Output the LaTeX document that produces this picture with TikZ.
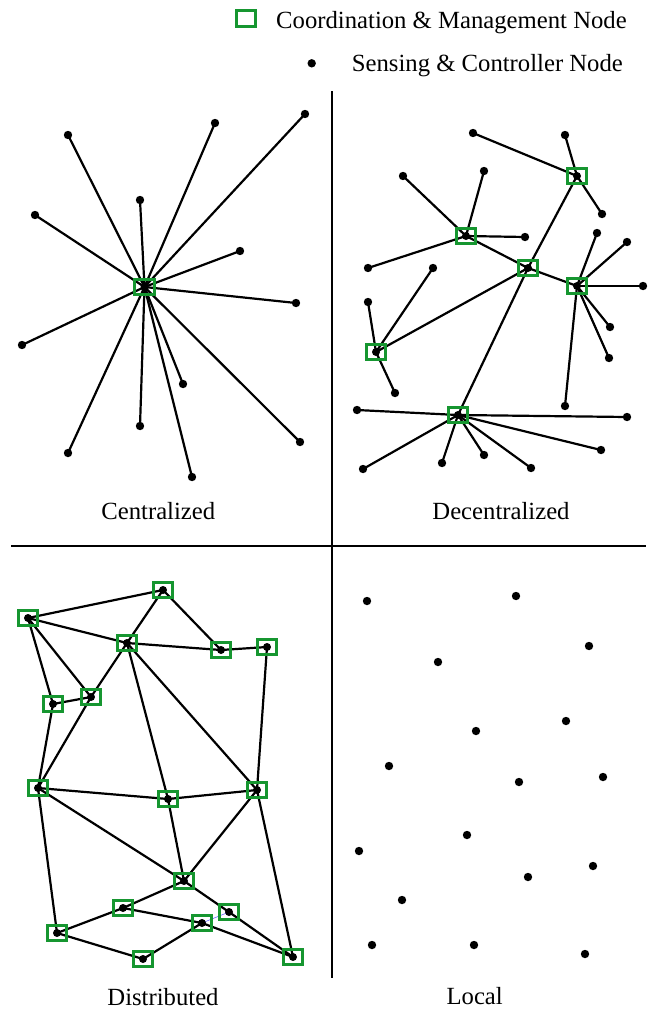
\documentclass[tikz,border=0pt]{standalone}
\usepackage{fontspec}
\setmainfont{Liberation Serif}
\usetikzlibrary{backgrounds}
\definecolor{hubgreen}{RGB}{22,150,48}
\begin{document}
\begin{tikzpicture}[x=1pt,y=-1pt,
  edge/.style={line width=2.2pt,black},
  divider/.style={line width=2.2pt,black},
  dot/.style={circle,fill=black,inner sep=0pt,minimum size=8.4pt},
  hub/.style={rectangle,draw=hubgreen,line width=2.9pt,inner sep=0pt,minimum width=19.5pt,minimum height=15.5pt,
    path picture={\fill[black] (path picture bounding box.center) circle (4pt);}},
  lab/.style={inner sep=0pt,anchor=base,font=\fontsize{24.7}{30}\selectfont},
  legtext/.style={inner sep=0pt,anchor=base west,font=\fontsize{24.7}{30}\selectfont}]
\useasboundingbox (0,0) rectangle (656,1010);

% legend
\node[hub,path picture={}] (lg1) at (246,18.5) {};
\node[legtext] (lt1) at (276,28) {Coordination \& Management Node};
\node[dot] (lg2) at (311.7,63.3) {};
\node[legtext] (lt2) at (351.7,71.7) {Sensing \& Controller Node};

% dividers
\coordinate (hl) at (11,546);
\coordinate (hr) at (646,546);
\coordinate (vt) at (332,91);
\coordinate (vb) at (332,978);
\draw[divider] (hl) -- (hr);
\draw[divider] (vt) -- (vb);

% ---------- Centralized ----------
\node[hub] (c0) at (144.5,287) {};
\foreach \n/\x/\y in {1/68/135,2/215/123,3/305/114,4/140/200,5/35/215,6/240/251,7/296/303,
  8/22/345,9/183/384,10/140/426,11/300/442,12/68/453,13/192/477}{
  \node[dot] (c\n) at (\x,\y) {};
}
\begin{scope}[on background layer]
\foreach \n in {1,...,13}{ \draw[edge] (c0.center) -- (c\n.center); }
\end{scope}
\node[lab] (lc) at (158.3,519) {Centralized};

% ---------- Decentralized ----------
\node[hub] (h1) at (577,176) {};
\node[hub] (h2) at (466,236) {};
\node[hub] (h3) at (528,268) {};
\node[hub] (h4) at (577,286) {};
\node[hub] (h5) at (376,352) {};
\node[hub] (h6) at (458,415) {};
\foreach \n/\x/\y/\h in {a/473/133/h1,b/565/135/h1,c/602/214/h1,
  d/403/176/h2,e/484/171/h2,f/525/237/h2,g/368/268/h2,
  i/597/233/h4,j/627/242/h4,k/643/286/h4,l/610/327/h4,m/609/358/h4,n/565/406/h4,
  o/368/302/h5,p/433/268/h5,q/395/393/h5,
  r/357/410/h6,s/627/417/h6,t/601/450/h6,u/363/469/h6,v/442/463/h6,w/484/455/h6,z/531/468/h6}{
  \node[dot] (dl\n) at (\x,\y) {};
  \begin{scope}[on background layer]
    \draw[edge] (\h.center) -- (dl\n.center);
  \end{scope}
}
\begin{scope}[on background layer]
\draw[edge] (h1.center) -- (h3.center);
\draw[edge] (h3.center) -- (h6.center);
\draw[edge] (h2.center) -- (h3.center);
\draw[edge] (h3.center) -- (h4.center);
\draw[edge] (h3.center) -- (h5.center);
\end{scope}
\node[lab] (ld) at (501,519) {Decentralized};

% ---------- Distributed ----------
\foreach \n/\x/\y in {1/163/590,2/28/618,3/127/643,4/221/650,5/267/647,6/53/704,7/91/697,
  8/38/788,9/168/799,10/257/790,11/184/881,12/123/908,13/229/912,14/202/923,15/57/933,
  16/143/959,17/293/957}{
  \node[hub] (d\n) at (\x,\y) {};
}
\begin{scope}[on background layer]
\foreach \a/\b in {2/1,1/3,1/4,2/3,3/4,4/5,2/6,2/7,6/7,3/7,7/8,6/8,3/9,3/10,5/10,8/9,9/10,
  8/11,9/11,10/11,10/17,8/15,11/12,11/13,13/17,12/14,14/17,12/15,15/16,16/14}{
  \draw[edge] (d\a.center) -- (d\b.center);
}
\draw[line width=0.6pt,blue!60] (d14.center) -- (d13.center);
\end{scope}
\node[lab] (lds) at (163,1005) {Distributed};

% ---------- Local ----------
\foreach \n/\x/\y in {1/367/601,2/516/596,3/589/646,4/438/662,5/566/721,6/476/731,7/389/766,
  8/519/782,9/603/777,10/467/835,11/359/851,12/593/866,13/528/877,14/402/900,15/372/945,
  16/474/945,17/585/954}{
  \node[dot] (l\n) at (\x,\y) {};
}
\node[lab] (ll) at (474.7,1004) {Local};
\end{tikzpicture}
\end{document}
